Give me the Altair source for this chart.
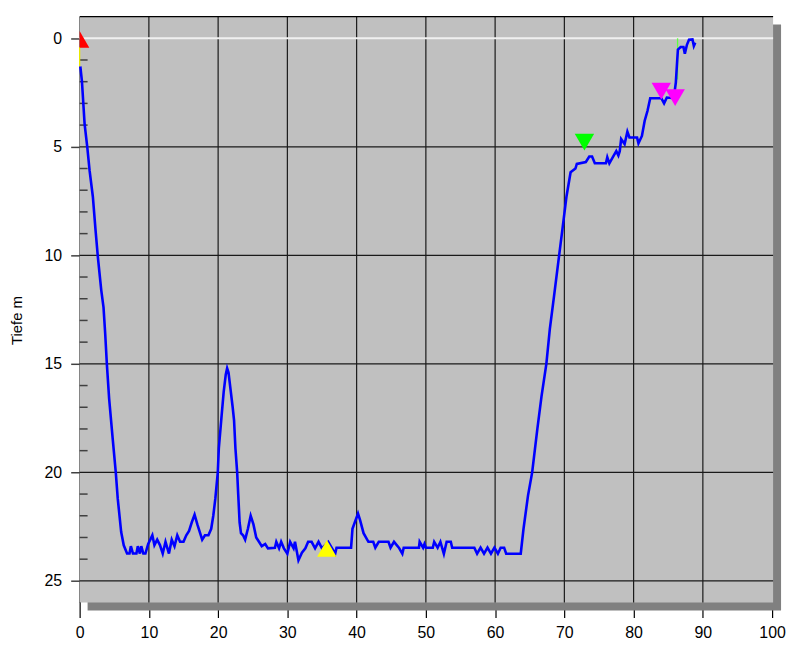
import altair as alt
import pandas as pd

# Profile: distance (x) and depth (m)
dist = [0.1, 0.33, 0.72, 1.1, 1.44, 1.91, 2.3, 2.63, 3.12, 3.45, 3.69, 3.93, 4.26, 4.79, 5.22, 5.5, 6.0, 6.37, 6.85,
        7.2, 7.4, 7.7, 8.2, 8.4, 8.7, 8.9, 9.2, 9.5, 9.9, 10.2, 10.5, 10.8, 11.2, 11.6, 12.0, 12.4, 12.9, 13.3, 13.7,
        14.1, 14.5, 15.0, 15.4, 15.8, 16.2, 16.6, 17.0, 17.4, 17.7, 18.1, 18.6, 19.0, 19.3, 19.6, 19.95, 20.1, 20.5,
        20.8, 21.1, 21.3, 21.5, 21.8, 22.1, 22.3, 22.5, 22.75, 22.9, 23.1, 23.3, 23.6, 23.9, 24.3, 24.7, 25.1, 25.5,
        25.9, 26.3, 26.8, 27.2, 28.2, 28.4, 28.8, 29.1, 29.5, 30.0, 30.4, 30.9, 31.1, 31.6, 32.1, 32.6, 33.0, 33.5,
        34.0, 34.5, 35.0, 35.9, 36.9, 37.1, 39.2, 39.4, 40.2, 40.5, 41.0, 41.7, 42.4, 42.7, 43.2, 44.6, 44.9, 45.4,
        46.1, 46.6, 46.8, 49.0, 49.1, 49.6, 49.8, 50.0, 51.0, 51.2, 51.7, 52.1, 52.6, 53.0, 53.6, 53.8, 57.0, 57.4,
        57.9, 58.4, 58.9, 59.4, 59.9, 60.4, 60.8, 61.3, 61.6, 63.7, 64.1, 64.75, 65.35, 66.1, 66.7, 67.4, 67.9, 68.5,
        69.1, 69.7, 70.3, 70.9, 71.6, 71.8, 73.1, 73.6, 74.0, 74.4, 76.0, 76.2, 76.5, 77.0, 77.5, 77.8, 78.0, 78.2,
        78.7, 79.1, 79.4, 80.5, 80.7, 81.2, 81.6, 82.0, 82.4, 84.0, 84.4, 84.8, 85.8, 86.1, 86.3, 86.4, 86.8, 87.2,
        87.4, 87.7, 88.0, 88.5, 88.7, 88.9]
depth = [1.3, 1.97, 3.96, 5.0, 6.1, 7.3, 8.85, 10.07, 11.6, 12.4, 13.6, 15.0, 16.6, 18.5, 20.0, 21.2, 22.75, 23.36, 23.74,
         23.74, 23.4, 23.74, 23.74, 23.4, 23.74, 23.4, 23.74, 23.74, 23.3, 23.1, 22.9, 23.35, 23.1, 23.35, 23.74, 23.2, 23.74, 23.1, 23.4,
         22.9, 23.2, 23.2, 22.9, 22.7, 22.3, 21.95, 22.4, 22.8, 23.1, 22.9, 22.9, 22.6, 22.0, 21.2, 20.0, 18.9, 17.4,
         16.3, 15.5, 15.2, 15.4, 16.2, 17.0, 17.6, 18.9, 20.0, 21.0, 22.3, 22.8, 22.9, 23.1, 22.6, 22.0, 22.4, 23.0,
         23.2, 23.4, 23.3, 23.5, 23.47, 23.2, 23.5, 23.2, 23.5, 23.75, 23.2, 23.5, 23.2, 24.05, 23.7, 23.5, 23.2, 23.2,
         23.5, 23.2, 23.5, 23.2, 23.75, 23.47, 23.47, 22.6, 21.9, 22.2, 22.8, 23.2, 23.2, 23.47, 23.2, 23.2, 23.47, 23.2,
         23.47, 23.75, 23.47, 23.47, 23.2, 23.47, 23.3, 23.47, 23.47, 23.2, 23.47, 23.2, 23.75, 23.2, 23.2, 23.47, 23.47, 23.75,
         23.47, 23.75, 23.47, 23.75, 23.47, 23.75, 23.47, 23.47, 23.75, 23.75, 22.6, 21.07, 20.0, 18.0, 16.5, 15.0, 13.4, 11.9,
         10.37, 8.85, 7.3, 6.17, 6.0, 5.79, 5.7, 5.45, 5.45, 5.76, 5.76, 5.48, 5.76, 5.48, 5.2, 5.4, 5.2, 4.64,
         4.87, 4.3, 4.57, 4.57, 4.84, 4.5, 3.8, 3.35, 2.76, 2.76, 3.0, 2.73, 2.76, 2.03, 1.0, 0.52, 0.4, 0.4,
         0.71, 0.3, 0.07, 0.05, 0.35, 0.2]

# Event markers
mark_x = [0.0, 35.7, 72.9, 84.0, 86.0]
mark_y = [0.05, 23.5, 4.78, 2.43, 2.73]
mark_shape = ["triangle-up", "triangle-up", "triangle-down", "triangle-down", "triangle-down"]
mark_color = ["#FF0000", "#FFFF00", "#00FF00", "#FF00FF", "#FF00FF"]

x_ticks = [0, 10, 20, 30, 40, 50, 60, 70, 80, 90, 100]
x_grid = [10, 20, 30, 40, 50, 60, 70, 80, 90]
y_ticks = [0, 5, 10, 15, 20, 25]
y_grid = [5, 10, 15, 20, 25]
y_minor = [d for d in range(1, 26) if d % 5 != 0]

W, H = 696, 589
FONT = "Liberation Sans"

xs = alt.Scale(domain=[0, 100], nice=False, zero=False)
ys = alt.Scale(domain=[-1, 26], reverse=True, nice=False, zero=False)

xa = alt.Axis(values=x_ticks, title=None, grid=False, domain=False, tickSize=15,
              tickColor="#000000", tickWidth=1.2, labelFontSize=16, labelFont=FONT,
              labelColor="#000000", labelPadding=7, labelFlush=False)
ya = alt.Axis(values=y_ticks, title="Tiefe m", grid=False, domain=True, domainColor="#000000",
              domainWidth=1.5, tickSize=9, tickColor="#404040", tickWidth=1.5,
              labelFontSize=16, labelFont=FONT, labelColor="#000000", labelPadding=9,
              titleFont=FONT, titleFontSize=15, titleFontWeight="normal", titleColor="#000000",
              titleX=-63, titleY=305, titleAngle=270, titleAlign="center",
              titleBaseline="middle")


def X(f):
    return alt.X(f, scale=xs, axis=xa, title=None)


def Y(f):
    return alt.Y(f, scale=ys, axis=ya, title="Tiefe m")


one = alt.Data(values=[{}])

shadow = alt.Chart(one).mark_rect(color="#808080", clip=False).encode(
    x=alt.value(8), x2=alt.value(W + 9), y=alt.value(8), y2=alt.value(H + 8))
panel = alt.Chart(one).mark_rect(color="#C0C0C0").encode(
    x=alt.value(0), x2=alt.value(W + 1), y=alt.value(0), y2=alt.value(H))
top_border = alt.Chart(one).mark_rule(color="#000000", strokeWidth=1.2).encode(
    x=alt.value(0), x2=alt.value(W + 1), y=alt.value(0))

vgrid = alt.Chart(pd.DataFrame({"g": x_grid})).mark_rule(color="#1a1a1a", strokeWidth=1.2).encode(
    x=X("g:Q"), y=alt.value(0), y2=alt.value(H))
hgrid = alt.Chart(pd.DataFrame({"g": y_grid})).mark_rule(color="#1a1a1a", strokeWidth=1.2).encode(
    y=Y("g:Q"), x=alt.value(0), x2=alt.value(W + 1))
surface = alt.Chart(pd.DataFrame({"g": [0]})).mark_rule(color="#F0F0F0", strokeWidth=2).encode(
    y=Y("g:Q"), x=alt.value(0), x2=alt.value(W + 1))
minor = alt.Chart(pd.DataFrame({"g": y_minor})).mark_rule(color="#404040", strokeWidth=1.5).encode(
    y=Y("g:Q"), x=alt.value(0), x2=alt.value(8))

aux = pd.DataFrame({"x": [0.0, 86.35], "y1": [0.4, 0.0], "y2": [1.3, 1.9], "c": ["#E8E800", "#60FF40"]})
aux_lines = alt.Chart(aux).mark_rule(strokeWidth=1.3).encode(
    x=X("x:Q"), y=Y("y1:Q"), y2="y2:Q",
    color=alt.Color("c:N", scale=None))

prof = pd.DataFrame({"i": list(range(len(dist))), "x": dist, "g": depth})
line = alt.Chart(prof).mark_line(color="#0000FF", strokeWidth=2.6).encode(
    x=X("x:Q"), y=Y("g:Q"), order="i:Q")

mk = pd.DataFrame({"x": mark_x, "g": mark_y, "s": mark_shape, "c": mark_color})
markers = alt.Chart(mk).mark_point(filled=True, opacity=1, size=380, clip=True).encode(
    x=X("x:Q"), y=Y("g:Q"),
    shape=alt.Shape("s:N", scale=None),
    color=alt.Color("c:N", scale=None))

chart = alt.layer(shadow, panel, vgrid, hgrid, surface, minor, aux_lines, line, markers, top_border).properties(
    width=W, height=H,
    autosize=alt.AutoSizeParams(type="none"),
    padding={"left": 72, "top": 7, "right": 20, "bottom": 40},
    background="#FFFFFF",
).configure_view(stroke=None)

chart.save("out.html", embed_options={"renderer": "svg", "actions": False})
